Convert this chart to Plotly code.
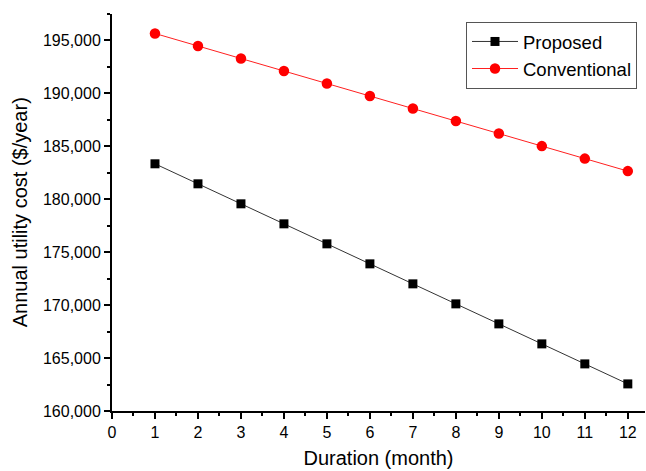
import plotly.graph_objects as go

months = [1, 2, 3, 4, 5, 6, 7, 8, 9, 10, 11, 12]
proposed = [183350, 181460, 179570, 177680, 175790, 173900,
            172010, 170120, 168230, 166340, 164450, 162560]
conventional = [195660, 194480, 193300, 192110, 190930, 189750,
                188570, 187390, 186210, 185020, 183840, 182660]

FONT = "Liberation Sans, Arial, sans-serif"

fig = go.Figure()
fig.add_trace(go.Scatter(
    x=months, y=proposed, mode="lines+markers", name="Proposed",
    line=dict(color="#333333", width=1),
    marker=dict(symbol="square", size=9, color="black"),
    cliponaxis=False,
))
fig.add_trace(go.Scatter(
    x=months, y=conventional, mode="lines+markers", name="Conventional",
    line=dict(color="#ff2020", width=1),
    marker=dict(symbol="circle", size=10.5, color="red"),
    cliponaxis=False,
))

fig.update_layout(
    width=646, height=471,
    margin=dict(l=112, r=1, t=14, b=60),
    paper_bgcolor="white", plot_bgcolor="white",
    font=dict(family=FONT, color="black", size=16),
    showlegend=True,
    legend=dict(
        x=0.985, y=0.98, xanchor="right", yanchor="top",
        bordercolor="#555555", borderwidth=1, bgcolor="white",
        font=dict(size=18.5, family=FONT),
        tracegroupgap=0, itemwidth=46,
    ),
    xaxis=dict(
        range=[0, 12.4], dtick=1, tick0=0,
        showgrid=False, zeroline=False,
        showline=True, linecolor="black", linewidth=2,
        ticks="outside", ticklen=6, tickwidth=2, tickcolor="black",
        minor=dict(ticks="outside", ticklen=3, tickwidth=1.5, dtick=0.5, tickcolor="black"),
        title=dict(text="Duration (month)", font=dict(size=20, family=FONT), standoff=11),
        tickfont=dict(size=16, family=FONT),
    ),
    yaxis=dict(
        range=[160000, 197500], dtick=5000, tick0=160000,
        tickformat=",d",
        showgrid=False, zeroline=False,
        showline=True, linecolor="black", linewidth=2,
        ticks="outside", ticklen=6, tickwidth=2, tickcolor="black",
        minor=dict(ticks="outside", ticklen=3, tickwidth=1.5, dtick=2500, tickcolor="black"),
        tickfont=dict(size=16, family=FONT),
    ),
    annotations=[dict(
        text="Annual utility cost ($/year)", textangle=-90,
        xref="paper", yref="paper", x=-0.173, y=0.5,
        xanchor="center", yanchor="middle", showarrow=False,
        font=dict(size=20, family=FONT),
    )],
)

fig.write_html("out.html")
